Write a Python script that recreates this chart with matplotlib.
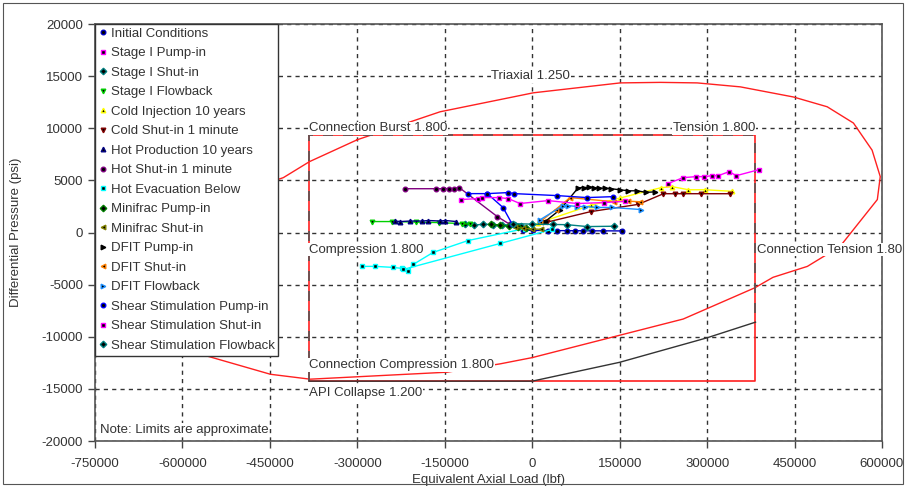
import numpy as np
import matplotlib
matplotlib.use("Agg")
import matplotlib.pyplot as plt
from matplotlib.lines import Line2D
from matplotlib.patches import Rectangle

plt.rcParams["font.family"] = ["Liberation Sans", "DejaVu Sans"]
plt.rcParams["axes.unicode_minus"] = False

# ── design limits (load in klbf, differential pressure in psi) ─────
TRIAX_LOAD = [-300, -158, 2, 151, 220, 283, 357, 448, 506, 551, 583, 597,
              592, 528, 472, 413, 382, 259, 0, -55, -146, -381, -449, -569,
              -610, -625, -610, -570, -500, -427, -382, -300]
TRIAX_DP = [8900, 11580, 13400, 14350, 14400, 14350, 13970, 13000, 12060,
            10500, 7900, 5360, 3160, -1340, -3250, -4300, -5300, -8300,
            -12000, -12600, -13400, -14070, -13600, -11670, -8500, -4000,
            -500, 2000, 3900, 5260, 6800, 8900]

CONN_LOAD = [-383, 383, 383, -383, -383]
CONN_DP = [9380, 9380, -14260, -14260, 9380]

API_DASH_LOAD = [-383, -383, 383, 383]
API_DASH_DP = [-14260, 9380, 9380, -8600]
API_COLLAPSE_LOAD = [-383, 0, 150, 300, 383]
API_COLLAPSE_DP = [-14260, -14260, -12450, -10100, -8600]

# ── load cases ────────────────────────────────────────────────────
INIT_LOAD = [-15, 2, 27, 43, 60, 74, 87, 103, 122, 154]
INIT_DP = [230, 200, 190, 180, 180, 170, 170, 160, 160, 150]

S1_PUMP_LOAD = [233, 259, 281, 295, 309, 319, 338, 350, 389]
S1_PUMP_DP = [4700, 5260, 5360, 5360, 5450, 5450, 5840, 5450, 6030]

S1_SHUT_LOAD = [-115, -100, -84, -67, -51, -30, -19]
S1_SHUT_DP = [850, 700, 800, 750, 750, 700, 650]

S1_FLOW_LOAD = [-274, -240, -200, -160, -120, -106]
S1_FLOW_DP = [1050, 1050, 1000, 950, 850, 800]

COLD_INJ_LOAD = [10, 100, 150, 221, 240, 268, 297, 343]
COLD_INJ_DP = [900, 2600, 3300, 4300, 4400, 4100, 4100, 3950]

COLD_SHUT_LOAD = [26, 100, 182, 225, 245, 259, 290, 340]
COLD_SHUT_DP = [1000, 2000, 2700, 3720, 3720, 3720, 3720, 3720]

HOT_PROD_LOAD = [-235, -226, -210, -189, -178, -158, -149, -130]
HOT_PROD_DP = [1100, 1050, 1100, 1100, 1150, 1100, 1150, 1050]

HOT_SHUT_LOAD = [-218, -165, -153, -142, -135, -125, -60, -38]
HOT_SHUT_DP = [4200, 4200, 4200, 4200, 4200, 4300, 1530, 770]

HOT_EVAC_LOAD = [-292, -269, -238, -223, -213, -204, -170, -110, -12,
                 np.nan, -221, -55, 34]
HOT_EVAC_DP = [-3250, -3250, -3350, -3450, -3730, -3060, -1910, -770, 380,
               np.nan, -3540, -1050, 290]

MINI_PUMP_LOAD = [-70, -55, -40, -25, -10]
MINI_PUMP_DP = [800, 700, 600, 500, 400]

MINI_SHUT_LOAD = [-30, -15, 0, 15]
MINI_SHUT_DP = [500, 400, 350, 300]

DFIT_PUMP_LOAD = [22, 48, 79, 88, 97, 106, 115, 124, 135, 150, 165, 180, 195, 211]
DFIT_PUMP_DP = [1050, 2200, 4300, 4300, 4350, 4300, 4250, 4250, 4200, 4100,
                4000, 4000, 3850, 3900]

DFIT_SHUT_LOAD = [14, 40, 65, 140, 165, 185]
DFIT_SHUT_DP = [1050, 2200, 3350, 2950, 3000, 2950]

DFIT_FLOW_LOAD = [14, 53, 62, 77, 91, 111, 137, 187]
DFIT_FLOW_DP = [1240, 2580, 2580, 2490, 2490, 2400, 2400, 2200]

SHEAR_PUMP_LOAD = [-111, -77, -41, -31, 43, 94, 139, np.nan, -77, -50, -34]
SHEAR_PUMP_DP = [3730, 3730, 3830, 3730, 3540, 3350, 3440, np.nan, 3730, 2390, 770]

SHEAR_SHUT_LOAD = [-123, -93, -86, -57, -41, -21, 27, 77, 123, 160]
SHEAR_SHUT_DP = [3160, 3250, 3350, 3350, 3250, 2780, 3060, 2780, 2870, 3000]

SHEAR_FLOW_LOAD = [-33, 0, 36, 60, 94, 140]
SHEAR_FLOW_DP = [850, 800, 770, 750, 570, 600]

SERIES = [
    ("Initial Conditions", INIT_LOAD, INIT_DP, "#0000c0", "o"),
    ("Stage I Pump-in", S1_PUMP_LOAD, S1_PUMP_DP, "#ff00ff", "s"),
    ("Stage I Shut-in", S1_SHUT_LOAD, S1_SHUT_DP, "#008080", "D"),
    ("Stage I Flowback", S1_FLOW_LOAD, S1_FLOW_DP, "#00d000", "v"),
    ("Cold Injection 10 years", COLD_INJ_LOAD, COLD_INJ_DP, "#ffff00", "^"),
    ("Cold Shut-in 1 minute", COLD_SHUT_LOAD, COLD_SHUT_DP, "#800000", "v"),
    ("Hot Production 10 years", HOT_PROD_LOAD, HOT_PROD_DP, "#000080", "^"),
    ("Hot Shut-in 1 minute", HOT_SHUT_LOAD, HOT_SHUT_DP, "#800080", "o"),
    ("Hot Evacuation Below", HOT_EVAC_LOAD, HOT_EVAC_DP, "#00ffff", "s"),
    ("Minifrac Pump-in", MINI_PUMP_LOAD, MINI_PUMP_DP, "#008000", "D"),
    ("Minifrac Shut-in", MINI_SHUT_LOAD, MINI_SHUT_DP, "#808000", "<"),
    ("DFIT Pump-in", DFIT_PUMP_LOAD, DFIT_PUMP_DP, "#000000", ">"),
    ("DFIT Shut-in", DFIT_SHUT_LOAD, DFIT_SHUT_DP, "#ff8000", "<"),
    ("DFIT Flowback", DFIT_FLOW_LOAD, DFIT_FLOW_DP, "#1e90ff", ">"),
    ("Shear Stimulation Pump-in", SHEAR_PUMP_LOAD, SHEAR_PUMP_DP, "#0000ff", "o"),
    ("Shear Stimulation Shut-in", SHEAR_SHUT_LOAD, SHEAR_SHUT_DP, "#ff00ff", "s"),
    ("Shear Stimulation Flowback", SHEAR_FLOW_LOAD, SHEAR_FLOW_DP, "#008080", "D"),
]

X_TICKS = [-750000, -600000, -450000, -300000, -150000, 0, 150000, 300000, 450000, 600000]
Y_TICKS = [-20000, -15000, -10000, -5000, 0, 5000, 10000, 15000, 20000]

TEXT_COLOR = "#333333"


def k(vals):
    return np.asarray(vals, dtype=float) * 1000.0


fig = plt.figure(figsize=(9.06, 4.87), dpi=100)
ax = fig.add_axes([95 / 906, 1 - 441 / 487, 787 / 906, 417 / 487])

# outer frame of the screenshot
fig.patches.append(Rectangle((3 / 906, 3 / 487), 900 / 906, 481 / 487,
                             transform=fig.transFigure, fill=False,
                             edgecolor="#555555", linewidth=0.8))

ax.set_xlim(-750000, 600000)
ax.set_ylim(-20000, 20000)
ax.set_xticks(X_TICKS)
ax.set_yticks(Y_TICKS)
ax.tick_params(direction="out", length=5, width=1, colors="#444444",
               labelcolor=TEXT_COLOR, labelsize=9.5)
ax.tick_params(axis="x", pad=7)
ax.grid(True, color="#333333", linestyle=(0, (3, 3)), linewidth=1)
ax.set_axisbelow(True)
for sp in ax.spines.values():
    sp.set_color("#555555")
    sp.set_linewidth(1.2)

# envelopes
ax.plot(k(TRIAX_LOAD), TRIAX_DP, color="#ff2020", linewidth=1, zorder=2)
ax.plot(k(CONN_LOAD), CONN_DP, color="#ff2020", linewidth=1.2, zorder=2)
ax.plot(k(API_DASH_LOAD), API_DASH_DP, color="#555555", linewidth=1.2,
        linestyle=(0, (6, 6)), zorder=2)
ax.plot(k(API_COLLAPSE_LOAD), API_COLLAPSE_DP, color="#333333", linewidth=1, zorder=2)

# load lines
handles = []
for name, xs, ys, col, mk in SERIES:
    ax.plot(k(xs), ys, color=col, linewidth=1, marker=mk, markersize=3.3,
            markerfacecolor="black", markeredgecolor=col, markeredgewidth=1,
            zorder=3)
    handles.append(Line2D([], [], linestyle="none", marker=mk, markersize=3.3,
                          markerfacecolor="black", markeredgecolor=col,
                          markeredgewidth=1, label=name))

box = dict(facecolor="white", edgecolor="none", pad=0.5)
lab = dict(fontsize=9.5, color=TEXT_COLOR, bbox=box, zorder=5)
ax.text(-70000, 15000, "Triaxial 1.250", va="center", **lab)
ax.text(-383000, 10000, "Connection Burst 1.800", va="center", **lab)
ax.text(383000, 10000, "Tension 1.800", va="center", ha="right", **lab)
ax.text(-383000, -1650, "Compression 1.800", va="center", **lab)
ax.text(385000, -1650, "Connection Tension 1.80", va="center", clip_on=False, **lab)
ax.text(-383000, -12700, "Connection Compression 1.800", va="center", **lab)
ax.text(-383000, -15400, "API Collapse 1.200", va="center", **lab)
ax.text(-742000, -18900, "Note: Limits are approximate", va="center", **lab)

leg = ax.legend(handles=handles, loc="upper left", borderaxespad=0,
                fontsize=9.5, frameon=True, fancybox=False, framealpha=1,
                edgecolor="#333333", handlelength=0.6, handletextpad=0.3,
                labelspacing=0.55, borderpad=0.28)
leg.get_frame().set_linewidth(1)
leg.set_zorder(6)
for t in leg.get_texts():
    t.set_color(TEXT_COLOR)

ax.set_xlabel("Equivalent Axial Load (lbf)", fontsize=9.5, color=TEXT_COLOR, labelpad=3)
ax.set_ylabel("Differential Pressure (psi)", fontsize=9.5, color=TEXT_COLOR)
ax.yaxis.set_label_coords(-73 / 787, 0.5)

fig.savefig("out.png", dpi=100)
